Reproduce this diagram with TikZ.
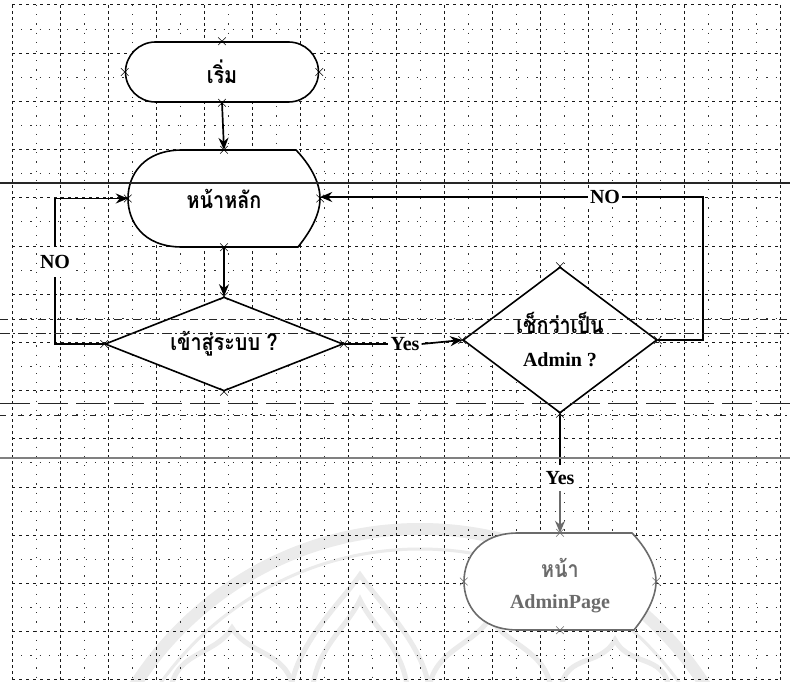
\documentclass[tikz,border=0pt]{standalone}
\usepackage{fontspec}
\setmainfont{Liberation Serif}
\newfontfamily\thaifont[Script=Thai,FakeStretch=0.86]{Loma}
\usetikzlibrary{shapes.geometric,shapes.misc,arrows.meta,calc}
\definecolor{wmgray}{gray}{0.92}
\definecolor{apgray}{gray}{0.42}
\newcommand{\dispoutline}[2]{%
  \draw[outline,#2,fill=white,shift={(#1.center)}]
    (-42,-48.5) -- (72,-48.5)
    .. controls (84,-36) and (96,-18) .. (96,0)
    .. controls (96,18) and (84,36) .. (74,48.5)
    -- (-42,48.5)
    .. controls (-82,48.5) and (-96,22) .. (-96,0)
    .. controls (-96,-24) and (-80,-48.5) .. (-42,-48.5) -- cycle;}
\newcommand{\petal}[3]{% x, top y, half width
  \draw[wm] (#1-#3,700) .. controls (#1-#3,650) and (#1-0.3*#3,#2+30) .. (#1,#2)
    .. controls (#1+0.3*#3,#2+30) and (#1+#3,650) .. (#1+#3,700);}
\newcommand{\thaitext}{\thaifont\bfseries\fontsize{23}{26}\selectfont}
\newcommand{\lattext}{\bfseries\fontsize{20}{23}\selectfont}
\begin{document}
\begin{tikzpicture}[x=1pt,y=-1pt,
  gridmajv/.style={black!90,line width=1pt,dash pattern=on 3pt off 3pt},
  gridmajh/.style={black!90,line width=1pt,dash pattern=on 3pt off 4pt},
  gridmin/.style={black!80,line width=0.9pt,dash pattern=on 1.2pt off 8pt},
  ruled/.style={black!85,line width=0.8pt},
  wm/.style={wmgray,line width=5pt},
  outline/.style={draw=black,line width=1.6pt},
  conn/.style={line width=1.7pt},
  arr/.style={-{Stealth[length=12pt,width=10pt]}},
  lbl/.style={font=\lattext,fill=white,inner sep=2pt},
  thai/.style={font=\thaitext},
  xmark/.style={cross out,draw,minimum size=7pt,inner sep=0pt,line width=0.6pt},
  startbox/.style={rounded rectangle,outline,fill=white,minimum width=193pt,minimum height=60pt,inner sep=0pt,thai},
  dispbox/.style={rectangle,minimum width=192pt,minimum height=97pt,inner sep=0pt,align=center},
  decbox/.style={diamond,outline,fill=white,inner sep=0pt,align=center}
]
\useasboundingbox (0,0) rectangle (790,682);
\fill[white] (0,0) rectangle (790,682);
% watermark
\begin{scope}
\clip (0,0) rectangle (790,682);
\draw[wmgray,line width=12pt] (420,867) circle[radius=338];
\draw[wmgray,line width=3pt] (420,867) circle[radius=318];
\petal{360}{575}{70}
\petal{360}{600}{48}
\petal{232}{628}{62}
\petal{490}{618}{62}
\petal{615}{640}{55}
\end{scope}
% grid
\foreach \i in {0,...,15} \draw[gridmin] ({36+48*\i},5) -- ({36+48*\i},680);
\foreach \j in {0,...,13} \draw[gridmin] (12,{29.1+48.2*\j}) -- (780,{29.1+48.2*\j});
\foreach \i in {0,...,16} \draw[gridmajv] ({12+48*\i},5) -- ({12+48*\i},680);
\foreach \j in {0,...,14} \draw[gridmajh] (12,{5+48.2*\j}) -- (780,{5+48.2*\j});
% nodes
\node[startbox] (start) at (222,72) {เริ่ม};
\node[dispbox] (main) at (224,198.5) {};
\dispoutline{main}{}
\node[thai] (maintxt) at (main.center) {หน้าหลัก};
\node[decbox,aspect=2.53,minimum width=238pt,minimum height=94pt,thai] (login) at (224,344) {เข้าสู่ระบบ ?};
\node[decbox,aspect=1.33,minimum width=194pt,minimum height=146pt] (admin) at (560,340)
  {{\thaitext เช็กว่าเป็น}\\[18pt]{\lattext Admin ?}};
\node[dispbox] (ap) at (560,581.5) {};
\dispoutline{ap}{draw=apgray}
\node[align=center,text=apgray] (aptxt) at (560,586)
  {{\thaitext หน้า}\\[16pt]{\lattext AdminPage}};
% labels
\node[lbl,inner ysep=8pt] (no1) at (55,262) {NO};
\node[lbl] (yes1) at (405,344) {Yes};
\node[lbl] (no2) at (605,197) {NO};
\node[lbl,inner ysep=6pt] (yes2) at (560,478) {Yes};
% connectors
\draw[conn,arr] (start.south) -- (main.north);
\draw[conn,arr] (main.south) -- (login.north);
\draw[conn] (login.west) -| (no1.south);
\draw[conn,arr] (no1.north) |- (main.west);
\draw[conn] (login.east) -- (yes1.west);
\draw[conn,arr] (yes1.east) -- (admin.west);
\draw[conn] (admin.east) -- ++(45,0) |- (no2.east);
\draw[conn,arr] (no2.west) -- (main.east |- no2.west);
\draw[conn] (admin.south) -- (yes2.north);
\draw[conn,arr,apgray] (yes2.south) -- (ap.north);
% ruled lines of the page
\draw[ruled,line width=1.2pt] (0,183) -- (790,183);
\draw[ruled,dash pattern=on 8pt off 4pt on 3pt off 4pt] (0,319) -- (790,319);
\draw[ruled,dash pattern=on 10pt off 3pt on 2pt off 3pt] (0,333) -- (790,333);
\draw[ruled,dash pattern=on 30pt off 8pt] (0,403) -- (790,403);
\draw[ruled,dash pattern=on 6pt off 5pt on 2pt off 5pt] (0,415) -- (790,415);
\draw[gray,line width=1.4pt] (0,458) -- (790,458);
% connection marks
\foreach \n in {start,main,login,admin} \foreach \a in {north,south,east,west}
  \node[xmark] (x-\n-\a) at (\n.\a) {};
\foreach \a in {north,south,east,west}
  \node[xmark,apgray] (x-ap-\a) at (ap.\a) {};
\end{tikzpicture}
\end{document}
